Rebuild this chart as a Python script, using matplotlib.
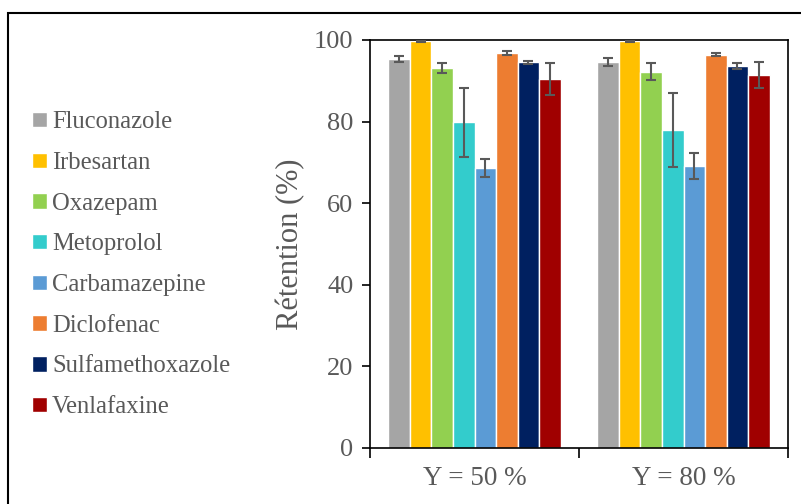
import matplotlib.pyplot as plt
import matplotlib.patches as patches
import numpy as np

# data
groups = ['Y = 50 %', 'Y = 80 %']
compounds = ['Fluconazole', 'Irbesartan', 'Oxazepam', 'Metoprolol',
             'Carbamazepine', 'Diclofenac', 'Sulfamethoxazole', 'Venlafaxine']
colors = ['#A5A5A5', '#FFC000', '#92D050', '#33CCCC',
          '#5B9BD5', '#ED7D31', '#002060', '#A00000']

ret_50 = [95.3, 99.8, 93.1, 79.8, 68.7, 96.8, 94.5, 90.4]
err_50 = [0.7, 0.3, 1.2, 8.4, 2.2, 0.5, 0.3, 4.0]
ret_80 = [94.7, 99.8, 92.2, 77.9, 69.1, 96.4, 93.7, 91.4]
err_80 = [1.0, 0.3, 2.1, 9.1, 3.2, 0.3, 0.7, 3.2]

plt.rcParams['font.family'] = ['Liberation Serif', 'DejaVu Serif']
txt = '#595959'

fig = plt.figure(figsize=(8.01, 5.04), dpi=100, facecolor='white')
ax = fig.add_axes([370/801, 1-448/504, (788-370)/801, (448-40)/504])

x = np.arange(len(groups))
n = len(compounds)
w = 0.103
for i in range(n):
    vals = [ret_50[i], ret_80[i]]
    errs = [err_50[i], err_80[i]]
    pos = x + (i - (n-1)/2) * w
    ax.bar(pos, vals, width=w, color=colors[i], edgecolor='white',
           linewidth=1.0, label=compounds[i], zorder=2)
    ax.errorbar(pos, vals, yerr=errs, fmt='none', ecolor='#595959',
                elinewidth=1.5, capsize=3.5, capthick=1.5, zorder=3)

ax.set_xlim(-0.5, 1.5)
ax.set_ylim(0, 100)
ax.set_yticks(range(0, 101, 20))
ax.set_xticks(x)
ax.set_xticklabels(groups)
ax.set_xticks([-0.5, 0.5, 1.5], minor=True)
ax.tick_params(axis='x', which='major', length=0, pad=13, labelsize=19.5, labelcolor=txt)
ax.tick_params(axis='x', which='minor', length=7, width=1.2, direction='out')
ax.tick_params(axis='y', length=6, width=1.2, direction='out', pad=6,
               labelsize=19, labelcolor=txt)
for s in ax.spines.values():
    s.set_color('black')
    s.set_linewidth(1.2)

ax.set_ylabel('Rétention (%)', fontsize=22, color=txt, labelpad=6)

fig.legend(loc='upper left', bbox_to_anchor=(20/801, 1-99/504), frameon=False,
           fontsize=17.7, labelcolor=txt, handlelength=0.6, handleheight=0.6,
           handletextpad=0.2, labelspacing=0.76, borderpad=0)

# outer frame, only left and top edges inside the picture
fig.patches.append(patches.Rectangle((8/801, -0.1), 1.2, 1-13/504+0.1,
                                     transform=fig.transFigure, fill=False,
                                     edgecolor='black', linewidth=1.5))

fig.savefig('out.png', dpi=100, facecolor='white')
